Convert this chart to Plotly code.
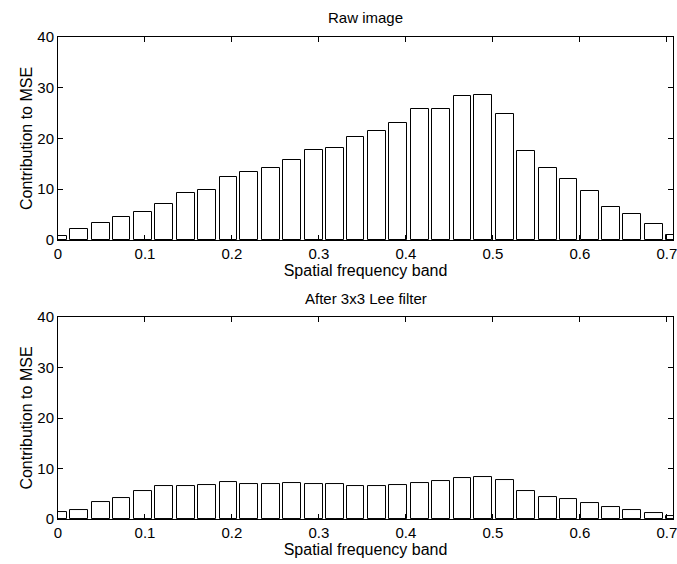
import plotly.graph_objects as go
from plotly.subplots import make_subplots

band_centers = [0.000, 0.024, 0.049, 0.073, 0.098, 0.122, 0.147, 0.171, 0.196, 0.220,
                0.245, 0.269, 0.294, 0.318, 0.342, 0.367, 0.391, 0.416, 0.440, 0.465,
                0.489, 0.514, 0.538, 0.563, 0.587, 0.612, 0.636, 0.660, 0.685, 0.709]
raw_mse = [0.8, 2.1, 3.4, 4.5, 5.6, 7.1, 9.3, 9.8, 12.4, 13.4,
           14.2, 15.7, 17.7, 18.1, 20.2, 21.4, 23.0, 25.8, 25.9, 28.4,
           28.5, 24.8, 17.6, 14.1, 12.0, 9.6, 6.5, 5.2, 3.1, 1.0]
lee_mse = [1.3, 1.8, 3.4, 4.1, 5.5, 6.6, 6.6, 6.8, 7.4, 7.0,
           7.0, 7.1, 6.9, 7.0, 6.6, 6.6, 6.7, 7.2, 7.5, 8.1,
           8.3, 7.7, 5.6, 4.4, 3.9, 3.2, 2.3, 1.8, 1.2, 0.6]
x_ticks = [0, 0.1, 0.2, 0.3, 0.4, 0.5, 0.6, 0.7]
x_tick_text = ["0", "0.1", "0.2", "0.3", "0.4", "0.5", "0.6", "0.7"]
y_ticks = [0, 10, 20, 30, 40]
titles = ["Raw image", "After 3x3 Lee filter"]
x_title = "Spatial frequency band"
y_title = "Contribution to MSE"

FONT = "Liberation Sans, Arial, Helvetica, sans-serif"
FS = 15

fig = make_subplots(rows=2, cols=1, vertical_spacing=0.16)
for i, vals in enumerate([raw_mse, lee_mse]):
    fig.add_trace(go.Bar(x=band_centers, y=vals, width=0.0205,
                         marker=dict(color="white", line=dict(color="black", width=1)),
                         showlegend=False, hoverinfo="skip"), row=i + 1, col=1)

axis_common = dict(showline=True, mirror="ticks", linecolor="black", linewidth=1,
                   ticks="inside", ticklen=5, tickcolor="black", showgrid=False,
                   zeroline=False, automargin=False, ticklabeloverflow="allow",
                   tickfont=dict(family=FONT, size=FS, color="black"))
for r in (1, 2):
    fig.update_xaxes(range=[0, 0.7071], tickvals=x_ticks, ticktext=x_tick_text,
                     title=dict(text=x_title, font=dict(family=FONT, size=16, color="black"), standoff=2),
                     row=r, col=1, **axis_common)
    fig.update_yaxes(range=[0, 40], tickvals=y_ticks,
                     title=dict(text=y_title, font=dict(family=FONT, size=16, color="black"), standoff=0),
                     row=r, col=1, **axis_common)

fig.update_layout(
    width=677, height=564,
    margin=dict(l=58, r=4, t=37, b=45),
    plot_bgcolor="white", paper_bgcolor="white",
    bargap=0,
    font=dict(family=FONT, size=FS, color="black"),
)
fig.update_yaxes(domain=[0.579, 1.0], row=1, col=1)
fig.update_yaxes(domain=[0.0, 0.419], row=2, col=1)

fig.add_annotation(text=titles[0], x=0.5, xref="paper", y=1.0, yref="paper",
                   yanchor="middle", yshift=20, showarrow=False,
                   font=dict(family=FONT, size=FS, color="black"))
fig.add_annotation(text=titles[1], x=0.5, xref="paper", y=0.419, yref="paper",
                   yanchor="middle", yshift=19, showarrow=False,
                   font=dict(family=FONT, size=FS, color="black"))

fig.write_html("out.html", config={"displayModeBar": False},
               post_script="document.body.style.margin='0px';")
